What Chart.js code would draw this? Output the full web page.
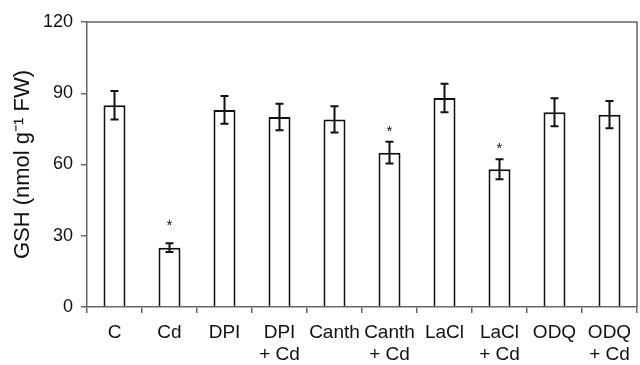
<!DOCTYPE html>
<html>
<head>
<meta charset="utf-8">
<script src="https://cdn.jsdelivr.net/npm/chart.js@4"></script>
<style>
  body { margin: 0; background: #fff; }
  #wrap { width: 640px; height: 365px; }
</style>
</head>
<body>
<div id="wrap"><canvas id="gshChart"></canvas></div>
<script>
// data
const categories = ["C", "Cd", "DPI", ["DPI", "+ Cd"], "Canth", ["Canth", "+ Cd"], "LaCl", ["LaCl", "+ Cd"], "ODQ", ["ODQ", "+ Cd"]];
const gshMean = [85, 25, 83, 80, 79, 65, 88, 58, 82, 81];
const gshErr = [6, 1.8, 5.8, 5.6, 5.5, 4.6, 6, 4.2, 5.9, 5.7];
// where the significance star sits (y value), null = no star
const starAt = [null, 35.5, null, null, null, 75, null, 68, null, null];
const yTicks = [0, 30, 60, 90, 120];

const axisColor = "#666";

// error bars + stars + box around plot
const extrasPlugin = {
  id: "extras",
  afterDatasetsDraw(chart) {
    const ctx = chart.ctx;
    const x = chart.scales.x;
    const y = chart.scales.y;
    ctx.save();
    ctx.strokeStyle = "#111";
    ctx.lineWidth = 2;
    gshMean.forEach((m, i) => {
      const cx = x.getPixelForValue(i);
      const top = y.getPixelForValue(m + gshErr[i]);
      const bot = y.getPixelForValue(m - gshErr[i]);
      ctx.beginPath();
      ctx.moveTo(cx, top);
      ctx.lineTo(cx, bot);
      ctx.moveTo(cx - 4, top);
      ctx.lineTo(cx + 4, top);
      ctx.moveTo(cx - 4, bot);
      ctx.lineTo(cx + 4, bot);
      ctx.stroke();
    });
    ctx.fillStyle = "#111";
    ctx.font = "15px 'Liberation Sans', Arial, sans-serif";
    ctx.textAlign = "center";
    ctx.textBaseline = "middle";
    starAt.forEach((s, i) => {
      if (s === null) return;
      ctx.fillText("*", x.getPixelForValue(i), y.getPixelForValue(s) + 3);
    });
    // top and right border of plot box
    const a = chart.chartArea;
    ctx.strokeStyle = axisColor;
    ctx.lineWidth = 1.5;
    ctx.beginPath();
    ctx.moveTo(a.left, a.top);
    ctx.lineTo(a.right, a.top);
    ctx.lineTo(a.right, a.bottom);
    ctx.stroke();
    ctx.restore();
  },
};

const ctx = document.getElementById("gshChart").getContext("2d");
new Chart(ctx, {
  type: "bar",
  data: {
    labels: categories,
    datasets: [
      {
        data: gshMean,
        backgroundColor: "#fff",
        borderColor: "#111",
        borderWidth: 2,
        barPercentage: 0.4,
        categoryPercentage: 1,
      },
    ],
  },
  options: {
    responsive: true,
    maintainAspectRatio: false,
    animation: false,
    layout: { padding: { top: 22, right: 3, left: 0, bottom: 0 } },
    plugins: {
      legend: { display: false },
      tooltip: { enabled: false },
    },
    scales: {
      x: {
        grid: { drawOnChartArea: false, color: axisColor, tickLength: 6, lineWidth: 1.5, offset: true },
        border: { color: axisColor, width: 1.5 },
        ticks: {
          color: "#111",
          font: { family: "'Liberation Sans', Arial, sans-serif", size: 19, lineHeight: 1.2 },
          padding: 8,
          autoSkip: false,
          maxRotation: 0,
          minRotation: 0,
        },
        afterFit: (s) => { s.height = 58; },
      },
      y: {
        min: 0,
        max: 120,
        afterBuildTicks: (s) => { s.ticks = yTicks.map((v) => ({ value: v })); },
        grid: { drawOnChartArea: false, color: axisColor, tickLength: 6, lineWidth: 1.5 },
        border: { color: axisColor, width: 1.5 },
        ticks: {
          color: "#111",
          font: { family: "'Liberation Sans', Arial, sans-serif", size: 18 },
          padding: 8,
        },
        title: {
          display: true,
          text: "GSH (nmol g\u207B\u00B9 FW)",
          color: "#111",
          font: { family: "'Liberation Sans', Arial, sans-serif", size: 22 },
          padding: { top: 10, bottom: 0 },
        },
        afterFit: (s) => { s.width = 87; },
      },
    },
  },
  plugins: [extrasPlugin],
});
</script>
</body>
</html>
